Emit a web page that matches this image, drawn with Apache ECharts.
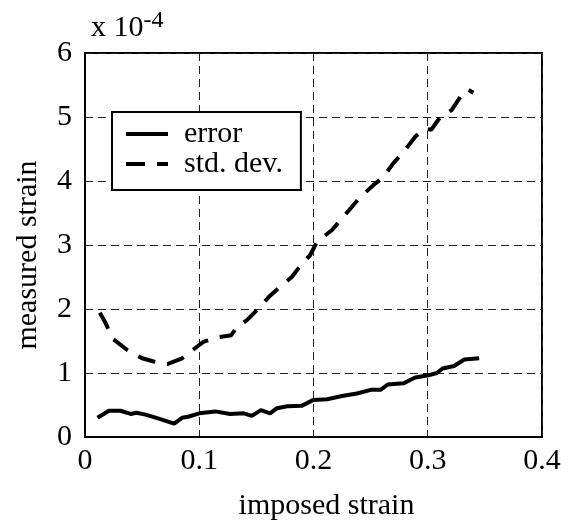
<!DOCTYPE html>
<html>
<head>
<meta charset="utf-8">
<script src="https://cdn.jsdelivr.net/npm/echarts@6/dist/echarts.min.js"></script>
<style>
    html, body { margin: 0; padding: 0; background: #fff; }
    #main { width: 570px; height: 529px; }
</style>
</head>
<body>
<div id="main"></div>
<script>
// imposed strain (x) and measured strain in units of 1e-4 (y)
var errorX = [0.011, 0.021, 0.031, 0.040, 0.045, 0.053, 0.066, 0.078, 0.085, 0.091, 0.100, 0.114, 0.127, 0.139, 0.146, 0.154, 0.162, 0.168, 0.177, 0.190, 0.200, 0.212, 0.225, 0.238, 0.251, 0.259, 0.265, 0.279, 0.289, 0.302, 0.308, 0.313, 0.323, 0.332, 0.345];
var errorY = [0.30, 0.41, 0.41, 0.36, 0.38, 0.35, 0.28, 0.21, 0.30, 0.32, 0.37, 0.40, 0.36, 0.37, 0.33, 0.42, 0.37, 0.45, 0.48, 0.49, 0.58, 0.59, 0.64, 0.68, 0.74, 0.74, 0.82, 0.84, 0.93, 0.97, 1.00, 1.07, 1.11, 1.21, 1.23];

var stdX = [0.013, 0.018, 0.024, 0.037, 0.050, 0.060, 0.072, 0.085, 0.098, 0.104, 0.117, 0.128, 0.133, 0.142, 0.152, 0.161, 0.171, 0.181, 0.190, 0.197, 0.203, 0.216, 0.229, 0.241, 0.254, 0.260, 0.270, 0.280, 0.289, 0.297, 0.303, 0.311, 0.321, 0.331, 0.335, 0.340];
var stdY = [1.94, 1.78, 1.54, 1.36, 1.23, 1.18, 1.14, 1.23, 1.41, 1.49, 1.56, 1.59, 1.72, 1.83, 2.01, 2.19, 2.35, 2.50, 2.71, 2.84, 3.05, 3.23, 3.50, 3.75, 3.96, 4.04, 4.28, 4.48, 4.69, 4.82, 4.80, 5.00, 5.11, 5.38, 5.43, 5.38];

var seriesNames = ['error', 'std. dev.'];

function pairs(xs, ys) {
    var out = [];
    for (var i = 0; i < xs.length; i++) out.push([xs[i], ys[i]]);
    return out;
}

var serif = 'Liberation Serif';
var chart = echarts.init(document.getElementById('main'));

var option = {
    animation: false,
    textStyle: { fontFamily: serif, color: '#000' },
    title: {
        left: 86,
        top: 4,
        text: 'x 10{sup|-4}',
        textStyle: {
            fontFamily: serif,
            fontWeight: 'normal',
            fontSize: 30,
            color: '#000',
            rich: {
                sup: { fontFamily: serif, fontSize: 24, color: '#000', verticalAlign: 'top', padding: [0, 0, 14, 0] }
            }
        }
    },
    legend: {
        orient: 'vertical',
        left: 112,
        top: 112,
        padding: [7, 18, 11, 14],
        itemWidth: 42,
        itemHeight: 4,
        itemGap: 0,
        borderColor: '#000',
        borderWidth: 2,
        backgroundColor: '#fff',
        data: [
            { name: seriesNames[0], icon: 'path://M0,0H42V4H0Z' },
            { name: seriesNames[1], icon: 'path://M0,0H19V4H0Z M31,0H42V4H31Z' }
        ],
        itemStyle: { color: '#000' },
        textStyle: { fontFamily: serif, fontSize: 30, color: '#000', padding: [0, 0, 0, 11] }
    },
    grid: {
        left: 85,
        right: 28,
        top: 53,
        bottom: 92,
        show: true,
        borderColor: '#000',
        borderWidth: 2,
        backgroundColor: 'transparent'
    },
    xAxis: {
        type: 'value',
        min: 0,
        max: 0.4,
        interval: 0.1,
        name: 'imposed strain',
        nameLocation: 'middle',
        nameGap: 54,
        nameTextStyle: { fontFamily: serif, fontSize: 30, color: '#000', padding: [0, 0, 0, 26] },
        axisLine: { show: true, lineStyle: { color: '#000', width: 2 } },
        axisTick: { show: false },
        axisLabel: { fontFamily: serif, fontSize: 30, color: '#000', margin: 9 },
        splitLine: { show: true, lineStyle: { color: '#222', width: 1, type: [8, 5] } }
    },
    yAxis: {
        type: 'value',
        min: 0,
        max: 6,
        interval: 1,
        name: 'measured strain',
        nameLocation: 'middle',
        nameGap: 42,
        nameTextStyle: { fontFamily: serif, fontSize: 30, color: '#000', padding: [0, 20, 0, 0] },
        axisLine: { show: true, lineStyle: { color: '#000', width: 2 } },
        axisTick: { show: false },
        axisLabel: { fontFamily: serif, fontSize: 30, color: '#000', margin: 13, padding: [0, 0, 9, 0] },
        splitLine: { show: true, lineStyle: { color: '#222', width: 1, type: [8, 5] } }
    },
    series: [
        {
            name: seriesNames[0],
            type: 'line',
            symbol: 'none',
            lineStyle: { color: '#000', width: 4 },
            itemStyle: { color: '#000' },
            data: pairs(errorX, errorY)
        },
        {
            name: seriesNames[1],
            type: 'line',
            symbol: 'none',
            lineStyle: { color: '#000', width: 4, type: [18, 12] },
            itemStyle: { color: '#000' },
            data: pairs(stdX, stdY)
        }
    ]
};
chart.setOption(option);
</script>
</body>
</html>
